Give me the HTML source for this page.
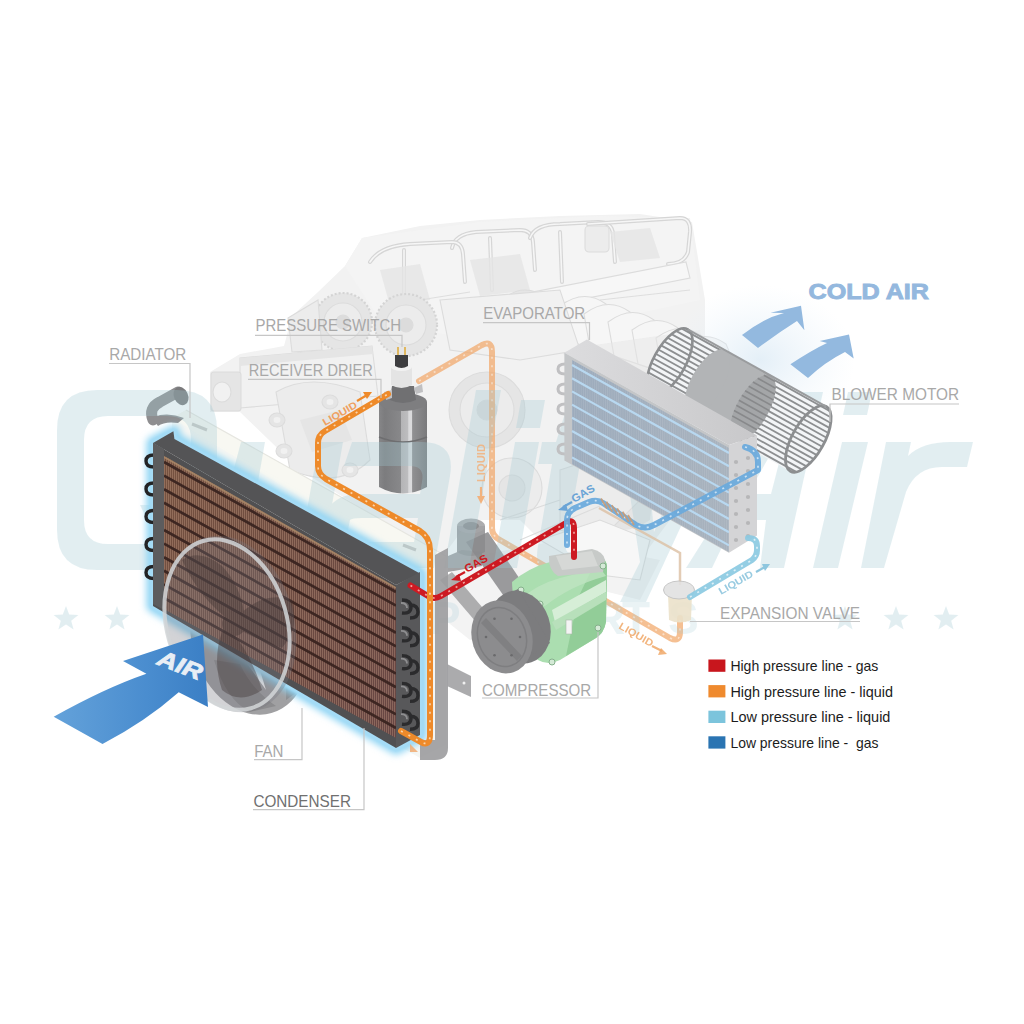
<!DOCTYPE html>
<html><head><meta charset="utf-8"><title>AC system diagram</title>
<style>html,body{margin:0;padding:0;background:#fff;}body{width:1024px;height:1024px;overflow:hidden;font-family:"Liberation Sans",sans-serif;}svg{display:block;}</style>
</head><body>
<svg width="1024" height="1024" viewBox="0 0 1024 1024"><defs>
<filter id="blur1" x="-20%" y="-20%" width="140%" height="140%"><feGaussianBlur stdDeviation="1.2"/></filter>
<filter id="blur2" x="-20%" y="-20%" width="140%" height="140%"><feGaussianBlur stdDeviation="2.5"/></filter>
<filter id="blur4" x="-30%" y="-30%" width="160%" height="160%"><feGaussianBlur stdDeviation="3.5"/></filter>
<filter id="blur8" x="-50%" y="-50%" width="200%" height="200%"><feGaussianBlur stdDeviation="10"/></filter>
<linearGradient id="airg" x1="0" y1="0" x2="1" y2="0"><stop offset="0" stop-color="#64a2da"/><stop offset="0.6" stop-color="#4a8dcf"/><stop offset="1" stop-color="#3b7fc5"/></linearGradient>
<linearGradient id="drierg" x1="0" y1="0" x2="1" y2="0">
 <stop offset="0" stop-color="#868688"/><stop offset="0.12" stop-color="#7c7c7e"/><stop offset="0.45" stop-color="#88888a"/><stop offset="0.46" stop-color="#b4b4b6"/><stop offset="0.6" stop-color="#bdbdbf"/><stop offset="0.62" stop-color="#dadadc"/><stop offset="0.68" stop-color="#dadadc"/><stop offset="0.7" stop-color="#909092"/><stop offset="1" stop-color="#7a7a7c"/></linearGradient>
<linearGradient id="coreg" x1="0" y1="0" x2="1" y2="1">
 <stop offset="0" stop-color="#765240"/><stop offset="0.5" stop-color="#6c4a40"/><stop offset="1" stop-color="#684644"/></linearGradient>
<linearGradient id="evtop" x1="0" y1="0" x2="1" y2="0"><stop offset="0" stop-color="#dcdcde"/><stop offset="1" stop-color="#c8c8ca"/></linearGradient>
<linearGradient id="evfront" x1="0" y1="0" x2="1" y2="0"><stop offset="0" stop-color="#9cabbc"/><stop offset="1" stop-color="#a8b2bd"/></linearGradient>
<pattern id="fins" width="2" height="10" patternUnits="userSpaceOnUse"><rect width="0.9" height="10" fill="#c49a84" opacity="0.42"/></pattern>
<pattern id="efins" width="2.2" height="10" patternUnits="userSpaceOnUse"><rect width="0.8" height="10" fill="#ffffff" opacity="0.1"/></pattern>
<radialGradient id="glowcold" cx="0.5" cy="0.5" r="0.5"><stop offset="0" stop-color="#d8e8f4" stop-opacity="0.7"/><stop offset="1" stop-color="#e8f2fa" stop-opacity="0"/></radialGradient>
</defs>
<g stroke="#dcdcdc" stroke-width="1.1" fill="#ececec">
<path stroke="none" fill="#f2f2f2" d="M210,372 L240,354 L284,346 L292,316 L318,292 L345,266 L362,238 L420,226 L480,220 L560,216 L640,214 L692,222 L705,300 L705,360 L690,440 L670,520 L640,560 L560,560 L520,520 L470,520 L440,560 L380,520 L300,470 L240,412 L210,412 Z"/>
<path stroke="none" fill="#f3f3f3" d="M455,560 L560,540 L660,560 L640,600 L600,590 L560,620 L470,640 L445,620 Z"/>
<path fill="#f4f4f4" stroke="none" d="M345,266 L362,238 L480,222 L600,216 L690,218 L700,300 L560,330 L470,340 L380,320 Z"/>
<g fill="none" stroke-linecap="round">
<path d="M452,248 Q455,234 476,232 L520,230 Q532,230 533,242 L535,270" stroke="#d6d6d6" stroke-width="4"/>
<path d="M452,248 Q455,234 476,232 L520,230 Q532,230 533,242 L535,270" stroke="#f6f6f6" stroke-width="1.6"/>
<path d="M530,238 Q535,224 560,224 L598,222 Q612,222 613,234 L615,262" stroke="#d6d6d6" stroke-width="4"/>
<path d="M530,238 Q535,224 560,224 L598,222 Q612,222 613,234 L615,262" stroke="#f6f6f6" stroke-width="1.6"/>
<path d="M588,224 L680,218 Q691,218 690,232 L688,252 Q684,264 668,264" stroke="#d6d6d6" stroke-width="4"/>
<path d="M588,224 L680,218 Q691,218 690,232 L688,252 Q684,264 668,264" stroke="#f6f6f6" stroke-width="1.6"/>
<path d="M370,262 Q380,246 410,244 L452,242 Q462,242 463,254 L465,282" stroke="#d6d6d6" stroke-width="4"/>
<path d="M370,262 Q380,246 410,244 L452,242 Q462,242 463,254 L465,282" stroke="#f6f6f6" stroke-width="1.6"/>
<path d="M404,250 L404,296 M490,238 L492,290 M560,232 L562,282" stroke="#d6d6d6" stroke-width="4"/>
<path d="M404,250 L404,296 M490,238 L492,290 M560,232 L562,282" stroke="#f6f6f6" stroke-width="1.6"/>
</g>
<path fill="#e5e5e5" stroke="none" d="M470,260 L520,254 L530,290 L480,296 Z M610,232 L650,228 L660,258 L620,262 Z M380,270 L420,264 L430,300 L390,306 Z" opacity="0.8"/>
<rect x="585" y="226" width="24" height="26" rx="4" fill="#ececec"/>
<path fill="#f7f7f7" d="M451,308 L686,262 L690,278 L455,324 Z"/>
<path fill="none" stroke="#dedede" stroke-width="1.2" d="M420,300 L470,292 M600,300 L690,290"/>
<circle cx="343" cy="322" r="29" fill="#e5e5e5" stroke="#d4d4d4" stroke-width="2.2" stroke-dasharray="2 2"/><circle cx="343" cy="322" r="19" fill="#ececec"/><circle cx="343" cy="322" r="7" fill="#dcdcdc"/>
<circle cx="406" cy="325" r="31" fill="#e5e5e5" stroke="#d4d4d4" stroke-width="2.2" stroke-dasharray="2 2"/><circle cx="406" cy="325" r="20" fill="#ececec"/><circle cx="406" cy="325" r="7" fill="#dcdcdc"/>
<path fill="#ececec" d="M288,318 L318,300 L322,350 L292,352 Z"/>
<path fill="#f1f1f1" d="M240,358 L372,346 L378,396 L240,408 Z"/>
<path fill="#e5e5e5" stroke="none" d="M240,358 L372,346 L373,354 L240,366 Z"/>
<rect x="211" y="372" width="30" height="39" rx="3" fill="#e5e5e5"/>
<ellipse cx="222" cy="392" rx="9" ry="10" fill="#f1f1f1"/>
<path fill="#ececec" d="M276,392 Q310,372 360,392 L370,460 Q340,490 290,470 Z"/>
<ellipse cx="277" cy="420" rx="8" ry="7" fill="#e5e5e5"/><ellipse cx="277" cy="420" rx="3.5" ry="3" fill="#f1f1f1" stroke="none"/>
<ellipse cx="284" cy="451" rx="8" ry="7" fill="#e5e5e5"/><ellipse cx="284" cy="451" rx="3.5" ry="3" fill="#f1f1f1" stroke="none"/>
<ellipse cx="330" cy="402" rx="8" ry="7" fill="#e5e5e5"/><ellipse cx="330" cy="402" rx="3.5" ry="3" fill="#f1f1f1" stroke="none"/>
<ellipse cx="350" cy="470" rx="8" ry="7" fill="#e5e5e5"/><ellipse cx="350" cy="470" rx="3.5" ry="3" fill="#f1f1f1" stroke="none"/>
<path fill="#e5e5e5" stroke="none" d="M300,420 L340,410 L352,440 L312,452 Z"/>
<path fill="#f6f6f6" d="M560,306 q24,-18 46,-2 q12,24 -4,48 l-36,-12 Z"/>
<path fill="#f6f6f6" d="M584,314 q24,-18 46,-2 q12,24 -4,48 l-36,-12 Z"/>
<path fill="#f6f6f6" d="M608,322 q24,-18 46,-2 q12,24 -4,48 l-36,-12 Z"/>
<path fill="#f6f6f6" d="M632,330 q24,-18 46,-2 q12,24 -4,48 l-36,-12 Z"/>
<path fill="#f6f6f6" d="M656,338 q24,-18 46,-2 q12,24 -4,48 l-36,-12 Z"/>
<path fill="#f6f6f6" d="M680,346 q24,-18 46,-2 q12,24 -4,48 l-36,-12 Z"/>
<path fill="#e5e5e5" stroke="none" d="M560,350 L700,330 L705,380 L600,400 Z" opacity="0.5"/>
<circle cx="487" cy="410" r="38" fill="#e5e5e5"/><circle cx="487" cy="410" r="27" fill="#ececec"/><circle cx="487" cy="410" r="10" fill="#dcdcdc"/>
<circle cx="512" cy="488" r="30" fill="#ececec"/><circle cx="512" cy="488" r="13" fill="#e5e5e5"/>
<circle cx="525" cy="318" r="28" fill="#e5e5e5"/><circle cx="525" cy="318" r="12" fill="#ececec"/>
<path fill="#f1f1f1" d="M440,300 L560,290 L580,350 L520,360 L450,350 Z"/>
<path fill="#e5e5e5" stroke="none" d="M600,420 Q640,410 660,440 L650,520 Q620,540 600,520 Z"/>
<path fill="#ececec" d="M560,470 L620,450 L640,500 L600,540 L560,530 Z"/>
<path fill="#f7f7f7" d="M540,540 L600,520 L650,540 L640,580 L600,575 Z"/>
<path fill="none" d="M500,520 L560,500 M520,540 L600,506"/>
</g>
<ellipse cx="760" cy="360" rx="95" ry="75" fill="url(#glowcold)"/>
<path d="M172,418 L186,410 L446,556 L446,745 L420,758 L174,616 Z" fill="#f5f6f3"/>
<path d="M172,418 L186,410 L446,556 L420,571 Z" fill="#f8f8f2"/>
<path d="M186,410 L446,556" stroke="#e6e6e0" stroke-width="1.2" fill="none"/>
<path d="M192,424 L207,430 M403,545 L416,550" stroke="#c8c8c4" stroke-width="3"/>
<path d="M153,420 Q148,408 160,402 L178,392" fill="none" stroke="#8e8e90" stroke-width="11" stroke-linecap="round"/>
<ellipse cx="181" cy="396" rx="7" ry="9.5" transform="rotate(-25 181 396)" fill="#7a7a7c"/>
<path d="M152,418 L160,415 Q172,413 184,418 L178,423 Q165,421 158,426 Z" fill="#8e8e90"/>
<g opacity="0.72"><path d="M419,381 L482,345 Q492,340 492,352 L492,528 Q492,536 500,540 L670,638 Q680,643 680,632 L680,618" fill="none" stroke="#f2a86a" stroke-width="6" stroke-linecap="round" stroke-linejoin="round"/><path d="M419,381 L482,345 Q492,340 492,352 L492,528 Q492,536 500,540 L670,638 Q680,643 680,632 L680,618" fill="none" stroke="#fbdcc0" stroke-width="1.7" stroke-dasharray="2 6.5" opacity="0.85"/></g>
<path d="M457,526 L457,552 Q470,560 485,552 L485,526 Z" fill="#8e8e90" opacity="0.85"/>
<path d="M448,556 L462,550 L482,552 L482,566 L448,572 Z" fill="#939395" opacity="0.85"/>
<ellipse cx="471" cy="526" rx="14" ry="7.5" fill="#a4a4a6" opacity="0.9"/>
<ellipse cx="471" cy="526" rx="8" ry="4" fill="#8a8a8c" opacity="0.9"/>
<path d="M466,542 L508,602 L530,594 L488,532 Z" fill="#8a8a8c" opacity="0.85"/>
<path d="M440,580 L452,572 L488,614 L476,622 Z" fill="#8e8e90" opacity="0.7"/>
<g>
<path d="M379,402 L379,487 Q403,500 427,487 L427,402 Z" fill="url(#drierg)"/>
<ellipse cx="403" cy="402" rx="24" ry="9" fill="#7e7e80"/>
<path d="M379,437 Q403,447 427,437" fill="none" stroke="#6e6e70" stroke-width="1.5"/>
<path d="M392,386 L414,386 L416,400 Q403,406 390,400 Z" fill="#707072"/>
<path d="M384,392 L392,390 L392,398 L386,400 Z M414,388 L422,384 L423,392 L416,394 Z" fill="#c0c0c2"/>
<path d="M391,367 L412,367 L412,385 Q401.5,391 391,385 Z" fill="#e4e4e4"/>
<ellipse cx="401.5" cy="367" rx="10.5" ry="4" fill="#f2f2f2"/>
<path d="M395,355 L408,355 L408,366 Q401.5,370 395,366 Z" fill="#3e3e40"/>
<path d="M398,347 v8 M405,347 v8" stroke="#e0b860" stroke-width="2"/>
</g>
<g fill="#a2cad4" opacity="0.3">
<path fill-rule="evenodd" d="M97,390 H177 Q217,390 217,430 V530 Q217,570 177,570 H97 Q57,570 57,530 V430 Q57,390 97,390 Z M108,416 Q84,416 84,440 V520 Q84,544 108,544 H167 Q191,544 191,520 V440 Q191,416 167,416 Z"/>
<path d="M140,505 L168,505 L200,570 L172,570 Z"/>
<path d="M241,442 h24 l-14,80 q-3,22 20,22 h30 l18,-102 h24 l-22,126 h-70 q-40,0 -34,-36 Z"/>
<path fill-rule="evenodd" d="M352,442 h70 q34,0 28,34 l-16,92 h-84 q-36,0 -30,-32 l2,-12 q6,-30 38,-30 h60 l2,-12 q3,-16 -12,-16 h-66 Z M350,520 l-2,10 q-2,12 12,12 h54 l4,-24 h-56 q-10,0 -12,2 Z"/>
<path d="M476,390 h25 l-32,178 h-25 Z"/>
<path d="M515,442 h24 l-22,126 h-24 Z M521,400 h24 l-5,28 h-24 Z"/>
<path d="M566,410 h24 l-6,32 h20 l-4,22 h-20 l-14,80 q-2,10 8,10 h10 l-4,24 h-18 q-30,0 -24,-32 l14,-82 h-14 l4,-22 h14 Z"/>
<path d="M622,442 h24 l8,90 l40,-90 h26 l-74,160 h-26 l20,-40 Z"/>
<path fill-rule="evenodd" d="M686,568 L797,392 L823,392 L784,568 L760,568 L766,520 L735,520 L712,568 Z M748,494 L771,494 L790,420 Z"/>
<path d="M842,442 L868,442 L838,568 L813,568 Z M848,392 L872,392 L867,415 L843,415 Z"/>
<path d="M886,442 L911,442 L908,456 Q922,442 950,442 L973,442 L967,467 L942,467 Q916,467 906,492 L884,568 L861,568 Z"/>
<polygon points="66.0,606.0 69.2,614.6 78.4,615.0 71.2,620.7 73.6,629.5 66.0,624.5 58.4,629.5 60.8,620.7 53.6,615.0 62.8,614.6"/>
<polygon points="117.0,606.0 120.2,614.6 129.4,615.0 122.2,620.7 124.6,629.5 117.0,624.5 109.4,629.5 111.8,620.7 104.6,615.0 113.8,614.6"/>
<polygon points="845.0,606.0 848.2,614.6 857.4,615.0 850.2,620.7 852.6,629.5 845.0,624.5 837.4,629.5 839.8,620.7 832.6,615.0 841.8,614.6"/>
<polygon points="896.0,606.0 899.2,614.6 908.4,615.0 901.2,620.7 903.6,629.5 896.0,624.5 888.4,629.5 890.8,620.7 883.6,615.0 892.8,614.6"/>
<polygon points="946.0,606.0 949.2,614.6 958.4,615.0 951.2,620.7 953.6,629.5 946.0,624.5 938.4,629.5 940.8,620.7 933.6,615.0 942.8,614.6"/>
</g>
<g fill="#a2cad4" opacity="0.22" font-family="Liberation Sans" font-weight="bold" font-size="46">
<text x="430" y="634">P</text>
<text x="515" y="634">A</text>
<text x="592" y="634">R</text>
<text x="622" y="634">T</text>
<text x="668" y="634">S</text>
</g>
<ellipse cx="250" cy="638" rx="58" ry="78" transform="rotate(-16 250 638)" fill="#a0a0a2"/>
<path d="M214,660 Q226,700 250,712 L276,706 Q252,690 240,664 Z" fill="#8c8c8e"/>
<path d="M282,640 Q300,660 300,690 L286,700 Q288,670 270,650 Z" fill="#8c8c8e"/>
<path d="M246,662 L266,690 L258,664 Z" fill="#ffffff"/>
<path d="M174,432 L174.4,439 L420,573.5 L420,735 L396,748 L153,606 L153,443 Z" fill="none" stroke="#8ed4f4" stroke-width="13" stroke-linejoin="round" filter="url(#blur4)"/>
<path d="M174,432 L174.4,439 L420,573.5 L420,735 L396,748 L153,606 L153,443 Z" fill="none" stroke="#a6dcf6" stroke-width="6" stroke-linejoin="round" filter="url(#blur1)"/>
<g fill="none" stroke="#232325" stroke-width="3.4">
<path d="M154,455.0 Q146,455.0 146,461.0 Q146,467.0 154,467.0"/>
<path d="M154,483.0 Q146,483.0 146,489.0 Q146,495.0 154,495.0"/>
<path d="M154,510.5 Q146,510.5 146,516.5 Q146,522.5 154,522.5"/>
<path d="M154,538.5 Q146,538.5 146,544.5 Q146,550.5 154,550.5"/>
<path d="M154,566.5 Q146,566.5 146,572.5 Q146,578.5 154,578.5"/>
</g>
<path d="M153,443 L173.4,431.3 L174.4,439 L420,573.5 L396,585 Z" fill="#545456"/>
<path d="M153,443 L396,585 L396,748 L153,606 Z" fill="#505052"/>
<path d="M164,456 L396,587 L396,738 L164,609 Z" fill="url(#coreg)"/>
<path d="M164,456 L396,587 L396,738 L164,609 Z" fill="url(#fins)"/>
<line x1="164" y1="457" x2="396" y2="588" stroke="#a98868" stroke-width="2" opacity="0.85"/>
<g stroke="#3a2420" stroke-width="2.7" opacity="0.95">
<line x1="164" y1="462.0" x2="396" y2="592.0"/>
<line x1="164" y1="475.6" x2="396" y2="605.6"/>
<line x1="164" y1="489.2" x2="396" y2="619.2"/>
<line x1="164" y1="502.8" x2="396" y2="632.8"/>
<line x1="164" y1="516.4" x2="396" y2="646.4"/>
<line x1="164" y1="530.0" x2="396" y2="660.0"/>
<line x1="164" y1="543.6" x2="396" y2="673.6"/>
<line x1="164" y1="557.2" x2="396" y2="687.2"/>
<line x1="164" y1="570.8" x2="396" y2="700.8"/>
<line x1="164" y1="584.4" x2="396" y2="714.4"/>
<line x1="164" y1="598.0" x2="396" y2="728.0"/>
</g>
<path d="M153,443 L164,449 L164,610 L153,604 Z" fill="#5c5c5e"/>
<ellipse cx="230" cy="624" rx="64" ry="90" transform="rotate(-16 230 624)" fill="#767680" opacity="0.32"/>
<g fill="#3e3232" opacity="0.38">
<path d="M232,622 Q200,600 182,560 Q200,548 222,566 Q240,585 244,612 Z"/>
<path d="M236,618 Q262,590 292,600 Q300,628 282,648 Q258,640 240,630 Z"/>
<path d="M228,628 Q250,650 262,690 Q240,705 222,690 Q212,660 222,632 Z"/>
<circle cx="234" cy="624" r="12"/>
</g>
<path d="M396,585 L420,572 L420,735 L396,748 Z" fill="#58585a"/>
<g fill="none" stroke="#2b2b2d" stroke-width="3.4">
<path d="M402,600.0 Q411,600.0 411,607.0 Q411,614.0 402,613.0"/>
<path d="M410,605.0 Q418,605.0 418,612.0 Q418,618.0 410,618.0"/>
<path d="M402,627.8 Q411,627.8 411,634.8 Q411,641.8 402,640.8"/>
<path d="M410,632.8 Q418,632.8 418,639.8 Q418,645.8 410,645.8"/>
<path d="M402,655.6 Q411,655.6 411,662.6 Q411,669.6 402,668.6"/>
<path d="M410,660.6 Q418,660.6 418,667.6 Q418,673.6 410,673.6"/>
<path d="M402,683.4 Q411,683.4 411,690.4 Q411,697.4 402,696.4"/>
<path d="M410,688.4 Q418,688.4 418,695.4 Q418,701.4 410,701.4"/>
<path d="M402,711.2 Q411,711.2 411,718.2 Q411,725.2 402,724.2"/>
<path d="M410,716.2 Q418,716.2 418,723.2 Q418,729.2 410,729.2"/>
</g>
<g fill="none" stroke="#8e8e90" stroke-width="1.8">
<path d="M401,603.0 Q407,603.0 407,608.0"/>
<path d="M401,630.8 Q407,630.8 407,635.8"/>
<path d="M401,658.6 Q407,658.6 407,663.6"/>
<path d="M401,686.4 Q407,686.4 407,691.4"/>
<path d="M401,714.2 Q407,714.2 407,719.2"/>
</g>
<ellipse cx="227" cy="624.6" rx="60" ry="87" transform="rotate(-16 227 624.6)" fill="none" stroke="#d2d6d8" stroke-width="4" opacity="0.85"/>
<path d="M53.7,716.7 Q105,688 146.4,673.7 L123,661 L203,634.6 L208,706.9 L178.7,692.3 Q145,722 102.5,744 Z" fill="url(#airg)"/>
<text transform="translate(156,664) rotate(21)" font-family="Liberation Sans" font-weight="bold" font-style="italic" font-size="22" fill="#e8eef5" stroke="#e8eef5" stroke-width="0.8" textLength="46" lengthAdjust="spacingAndGlyphs">AIR</text>
<path d="M435,555 L448,548 L448,748 Q448,760 435,760 L420,760 L420,740 L435,740 Z" fill="#9c9c9e" opacity="0.9"/>
<path d="M447,664 L471,676 L471,697 L447,686 Z" fill="#a2a2a4" opacity="0.9"/><circle cx="464" cy="683" r="1.5" fill="#f0f0f0"/>
<g>
<path d="M512,582 Q528,568 550,562 L598,556 Q607,558 607,568 L606,622 Q604,633 596,638 L560,660 Q548,666 538,660 L515,640 Z" fill="#abdeb0"/>
<path d="M598,556 Q607,558 607,568 L606,622 Q604,633 596,638 L566,656 L578,598 Z" fill="#92cd98"/>
<path d="M520,600 Q535,585 560,578 L600,568 L606,576 Q570,586 545,606 Z" fill="#bfe4c2" opacity="0.8"/>
<path d="M552,610 L606,580 L606,592 L555,622 Z" fill="#d6eed7"/>
<path d="M552,622 L606,592 L606,600 L556,630 Z" fill="#b8e0bb"/>
<path d="M549,556 L592,549 Q604,552 605,560 L603,572 L558,576 Q548,570 549,556 Z" fill="#c7cac8"/>
<path d="M556,556 L592,551 L598,566 L562,570 Z" fill="#d6d8d6"/>
<circle cx="540" cy="604" r="3" fill="#d4ead6" stroke="#86b08c" stroke-width="1"/>
<circle cx="603" cy="566" r="3" fill="#d4ead6" stroke="#86b08c" stroke-width="1"/>
<circle cx="598" cy="628" r="3" fill="#d4ead6" stroke="#86b08c" stroke-width="1"/>
<circle cx="552" cy="662" r="3" fill="#d4ead6" stroke="#86b08c" stroke-width="1"/>
<circle cx="521" cy="590" r="3" fill="#d4ead6" stroke="#86b08c" stroke-width="1"/>
<rect x="566" y="620" width="6" height="14" fill="#f4f4f4" stroke="#a8b8a8" stroke-width="0.6"/>
<ellipse cx="520" cy="627" rx="30" ry="37" transform="rotate(-18 520 627)" fill="#7c7c7e"/>
<path d="M490,604 L518,589 L550,643 L522,662 Z" fill="#7c7c7e"/>
<ellipse cx="502" cy="637" rx="30" ry="37" transform="rotate(-18 502 637)" fill="#8c8c8e"/>
<ellipse cx="502" cy="637" rx="24" ry="30" transform="rotate(-18 502 637)" fill="none" stroke="#7e7e80" stroke-width="1.5"/>
<path d="M486,618 L522,656 L517,661 L481,623 Z" fill="#808082"/>
<circle cx="520.0" cy="637.0" r="1.3" fill="#6a6a6c"/>
<circle cx="511.5" cy="655.2" r="1.3" fill="#6a6a6c"/>
<circle cx="494.5" cy="655.2" r="1.3" fill="#6a6a6c"/>
<circle cx="486.0" cy="637.0" r="1.3" fill="#6a6a6c"/>
<circle cx="494.5" cy="618.8" r="1.3" fill="#6a6a6c"/>
<circle cx="511.5" cy="618.8" r="1.3" fill="#6a6a6c"/>
</g>
<g opacity="1.0"><path d="M410.5,585.5 L428,596 Q434,600 441,596 L566,523 Q574,518 574,528 L574,557" fill="none" stroke="#cd1a22" stroke-width="6" stroke-linecap="round" stroke-linejoin="round"/><path d="M410.5,585.5 L428,596 Q434,600 441,596 L566,523 Q574,518 574,528 L574,557" fill="none" stroke="#f7b8b0" stroke-width="1.7" stroke-dasharray="2 6.5" opacity="0.85"/></g>
<g opacity="1.0"><path d="M401,731 L421,742 Q430,747 430,735 L430,550 Q430,537 420,531 L326,479 Q318,474 318,466 L318,443 Q318,435 325,431 L388,394" fill="none" stroke="#ee8a2a" stroke-width="6" stroke-linecap="round" stroke-linejoin="round"/><path d="M401,731 L421,742 Q430,747 430,735 L430,550 Q430,537 420,531 L326,479 Q318,474 318,466 L318,443 Q318,435 325,431 L388,394" fill="none" stroke="#fde0c0" stroke-width="1.7" stroke-dasharray="2 6.5" opacity="0.85"/></g>
<path d="M410,744 L418,752 L410,752 Z" fill="#f2a86a" opacity="0.8"/>
<defs><clipPath id="blowclip"><path d="M687.7,329.3 L826.3,406.6 L790.3,471.2 L651.7,393.9 Z"/><ellipse cx="669.7" cy="361.6" rx="16" ry="37" transform="rotate(29.1 669.7 361.6)"/><ellipse cx="808.3" cy="438.9" rx="16" ry="37" transform="rotate(29.1 808.3 438.9)"/></clipPath></defs>
<g clip-path="url(#blowclip)">
<rect x="600" y="300" width="260" height="200" fill="#f3f5f7"/>
<g stroke="#8d8f91" stroke-width="1.8">
<line x1="681.9" y1="328.6" x2="725.5" y2="352.9"/>
<line x1="765.1" y1="374.9" x2="830.0" y2="411.2"/>
<line x1="676.0" y1="330.9" x2="724.1" y2="357.8"/>
<line x1="759.1" y1="377.3" x2="831.1" y2="417.5"/>
<line x1="671.5" y1="334.1" x2="722.3" y2="362.5"/>
<line x1="754.6" y1="380.5" x2="830.8" y2="423.0"/>
<line x1="667.6" y1="337.7" x2="720.3" y2="367.1"/>
<line x1="750.8" y1="384.0" x2="829.8" y2="428.1"/>
<line x1="664.2" y1="341.4" x2="718.2" y2="371.6"/>
<line x1="747.3" y1="387.8" x2="828.4" y2="433.0"/>
<line x1="661.1" y1="345.4" x2="716.0" y2="376.0"/>
<line x1="744.2" y1="391.8" x2="826.6" y2="437.7"/>
<line x1="658.3" y1="349.5" x2="713.7" y2="380.4"/>
<line x1="741.4" y1="395.9" x2="824.6" y2="442.3"/>
<line x1="655.7" y1="353.8" x2="711.3" y2="384.8"/>
<line x1="738.9" y1="400.2" x2="822.3" y2="446.7"/>
<line x1="653.4" y1="358.2" x2="708.9" y2="389.1"/>
<line x1="736.6" y1="404.6" x2="819.7" y2="451.0"/>
<line x1="651.4" y1="362.8" x2="706.3" y2="393.4"/>
<line x1="734.6" y1="409.2" x2="816.9" y2="455.1"/>
<line x1="649.6" y1="367.5" x2="703.7" y2="397.6"/>
<line x1="732.8" y1="413.9" x2="813.8" y2="459.1"/>
<line x1="648.2" y1="372.4" x2="701.0" y2="401.8"/>
<line x1="731.4" y1="418.8" x2="810.4" y2="462.8"/>
<line x1="647.2" y1="377.5" x2="698.1" y2="405.9"/>
<line x1="730.4" y1="423.9" x2="806.5" y2="466.4"/>
<line x1="646.9" y1="383.0" x2="695.1" y2="409.9"/>
<line x1="730.1" y1="429.4" x2="802.0" y2="469.6"/>
<line x1="648.0" y1="389.3" x2="691.6" y2="413.7"/>
<line x1="731.2" y1="435.7" x2="796.1" y2="471.9"/>
</g>
<path d="M725.1,350.2 L770.9,375.7 L734.8,440.3 L689.1,414.8 Z" fill="#b2b4b6"/>
<ellipse cx="707.1" cy="382.5" rx="16" ry="37" transform="rotate(29.1 707.1 382.5)" fill="#b2b4b6"/>
<ellipse cx="752.9" cy="408.0" rx="16" ry="37" transform="rotate(29.1 752.9 408.0)" fill="#a4a6a8"/>
<g stroke="#88898b" stroke-width="1.6">
<line x1="763.9" y1="375.2" x2="774.9" y2="381.4"/>
<line x1="757.7" y1="378.2" x2="775.6" y2="388.2"/>
<line x1="752.9" y1="382.0" x2="774.9" y2="394.3"/>
<line x1="748.7" y1="386.2" x2="773.6" y2="400.1"/>
<line x1="745.1" y1="390.7" x2="771.7" y2="405.5"/>
<line x1="741.8" y1="395.3" x2="769.4" y2="410.7"/>
<line x1="738.9" y1="400.2" x2="766.8" y2="415.8"/>
<line x1="736.3" y1="405.2" x2="763.9" y2="420.6"/>
<line x1="734.0" y1="410.5" x2="760.6" y2="425.3"/>
<line x1="732.2" y1="415.9" x2="757.0" y2="429.7"/>
<line x1="730.8" y1="421.6" x2="752.9" y2="433.9"/>
<line x1="730.1" y1="427.7" x2="748.0" y2="437.7"/>
<line x1="730.8" y1="434.6" x2="741.8" y2="440.7"/>
</g>
</g>
<ellipse cx="669.7" cy="361.6" rx="16" ry="37" transform="rotate(29.1 669.7 361.6)" fill="none" stroke="#8c8e90" stroke-width="2.6"/>
<ellipse cx="808.3" cy="438.9" rx="16" ry="37" transform="rotate(29.1 808.3 438.9)" fill="none" stroke="#8c8e90" stroke-width="2.8"/>
<line x1="687.7" y1="329.3" x2="826.3" y2="406.6" stroke="#9a9c9e" stroke-width="2"/>
<g>
<g fill="none" stroke="#c0c0c2" stroke-width="3">
<path d="M565,364 Q558,364 558,369 Q558,374 565,374"/>
<path d="M565,384 Q558,384 558,389 Q558,394 565,394"/>
<path d="M565,404 Q558,404 558,409 Q558,414 565,414"/>
<path d="M565,424 Q558,424 558,429 Q558,434 565,434"/>
<path d="M565,444 Q558,444 558,449 Q558,454 565,454"/>
</g>
<path d="M564.4,352.8 L586.9,339.4 L757,435.6 L729,445 Z" fill="url(#evtop)"/>
<path d="M564.4,352.8 L729,445 L729,552.8 L564.4,460.6 Z" fill="#c4c6c8"/>
<path d="M572,360 L729,448 L729,552 L572,464 Z" fill="url(#evfront)"/>
<path d="M572,360 L729,448 L729,552 L572,464 Z" fill="url(#efins)"/>
<g stroke="#b8d8f0" stroke-width="2.2">
<line x1="572" y1="365.0" x2="729" y2="453.0"/>
<line x1="572" y1="378.2" x2="729" y2="466.2"/>
<line x1="572" y1="391.4" x2="729" y2="479.4"/>
<line x1="572" y1="404.6" x2="729" y2="492.6"/>
<line x1="572" y1="417.8" x2="729" y2="505.8"/>
<line x1="572" y1="431.0" x2="729" y2="519.0"/>
<line x1="572" y1="444.2" x2="729" y2="532.2"/>
<line x1="572" y1="457.4" x2="729" y2="545.4"/>
</g>
<path d="M729,445 L757,435.6 L757,535.6 L729,552.8 Z" fill="#d4d4d6"/>
<g fill="#b6b6b8">
<circle cx="736" cy="462" r="2.1"/>
<circle cx="748" cy="458" r="2.1"/>
<circle cx="736" cy="475" r="2.1"/>
<circle cx="748" cy="471" r="2.1"/>
<circle cx="736" cy="488" r="2.1"/>
<circle cx="748" cy="484" r="2.1"/>
<circle cx="736" cy="501" r="2.1"/>
<circle cx="748" cy="497" r="2.1"/>
<circle cx="736" cy="514" r="2.1"/>
<circle cx="748" cy="510" r="2.1"/>
<circle cx="736" cy="527" r="2.1"/>
<circle cx="748" cy="523" r="2.1"/>
<circle cx="736" cy="540" r="2.1"/>
<circle cx="748" cy="536" r="2.1"/>
</g>
</g>
<path d="M599,508 L680,553 L680,585" fill="none" stroke="#dcbfa3" stroke-width="2.5" opacity="0.8"/>
<g opacity="0.92"><path d="M745,447 Q758,450 758,462 L758,470 L654,525 Q645,530 636,525 L603,503 Q597,499 589,502 L575,508 Q567,512 567,520 L567,545" fill="none" stroke="#6aaadd" stroke-width="6" stroke-linecap="round" stroke-linejoin="round"/><path d="M745,447 Q758,450 758,462 L758,470 L654,525 Q645,530 636,525 L603,503 Q597,499 589,502 L575,508 Q567,512 567,520 L567,545" fill="none" stroke="#dcedfa" stroke-width="1.7" stroke-dasharray="2 6.5" opacity="0.85"/></g>
<g stroke="#c99c76" stroke-width="1.8" fill="none" opacity="0.9">
<path d="M601.0,498.5 L607.0,508.5"/>
<path d="M606.4,501.8 L612.4,511.8"/>
<path d="M611.8,505.1 L617.8,515.1"/>
<path d="M617.2,508.4 L623.2,518.4"/>
<path d="M622.6,511.7 L628.6,521.7"/>
<path d="M628.0,515.0 L634.0,525.0"/>
</g>
<g opacity="0.9">
<path d="M668,594 L692,594 L691,620 Q680,625 669,620 Z" fill="#ece2ca"/>
<ellipse cx="679" cy="590" rx="15.5" ry="9" fill="#e2e2e2" stroke="#c0c0c0" stroke-width="1"/>
</g>
<g opacity="0.92"><path d="M690,597 L752,560 Q757,556 757,550 L757,546 Q757,538 748,538" fill="none" stroke="#8ccae2" stroke-width="6" stroke-linecap="round" stroke-linejoin="round"/><path d="M690,597 L752,560 Q757,556 757,550 L757,546 Q757,538 748,538" fill="none" stroke="#e8f6fb" stroke-width="1.7" stroke-dasharray="2 6.5" opacity="0.85"/></g>
<text transform="translate(325,426) rotate(-30)" font-family="Liberation Sans" font-weight="bold" font-size="10" fill="#efa060" opacity="1" textLength="38" lengthAdjust="spacingAndGlyphs">LIQUID</text>
<path d="M357,401 L367,395" stroke="#ef8a2a" stroke-width="2.2"/><path d="M372,392 L363,392 L367,399 Z" fill="#ef8a2a"/>
<text transform="translate(484.5,482) rotate(-90)" font-family="Liberation Sans" font-weight="bold" font-size="10.5" fill="#f2b27e" opacity="0.85" textLength="38" lengthAdjust="spacingAndGlyphs">LIQUID</text>
<path d="M481,487 L481,498" stroke="#f2b27e" stroke-width="2.2"/><path d="M477,496 L485,496 L481,504 Z" fill="#f2b27e"/>
<text transform="translate(467,573) rotate(-30)" font-family="Liberation Sans" font-weight="bold" font-size="11" fill="#cd1a22" opacity="1" textLength="25" lengthAdjust="spacingAndGlyphs">GAS</text>
<path d="M465,572 L456,577" stroke="#cd1a22" stroke-width="2.2"/><path d="M451,580 L459,574 L461,581 Z" fill="#cd1a22"/>
<text transform="translate(574,503) rotate(-30)" font-family="Liberation Sans" font-weight="bold" font-size="11" fill="#6aa4d6" opacity="1" textLength="25" lengthAdjust="spacingAndGlyphs">GAS</text>
<path d="M572,502 L563,507" stroke="#6aa4d6" stroke-width="2.2"/><path d="M558,510 L566,504 L568,511 Z" fill="#6aa4d6"/>
<text transform="translate(618,628) rotate(30)" font-family="Liberation Sans" font-weight="bold" font-size="10" fill="#f0a868" opacity="0.85" textLength="38" lengthAdjust="spacingAndGlyphs">LIQUID</text>
<path d="M652,646 L662,651" stroke="#f0a868" stroke-width="2.2" opacity="0.85"/><path d="M667,654 L658,655 L661,648 Z" fill="#f0a868" opacity="0.85"/>
<text transform="translate(721,595) rotate(-30)" font-family="Liberation Sans" font-weight="bold" font-size="10" fill="#8ec6de" opacity="0.9" textLength="38" lengthAdjust="spacingAndGlyphs">LIQUID</text>
<path d="M756,572 L765,567" stroke="#8ec6de" stroke-width="2.2"/><path d="M770,564 L762,564 L765,571 Z" fill="#8ec6de"/>
<path d="M742,335 Q764,318 784,313 L770.5,312.7 L801,305.7 L804.4,330.3 L797,321 Q778,333 758,348 Z" fill="#93b9df"/>
<path d="M790.4,364.3 Q812,350 827,343 L819.7,340.9 L849,334.5 L853.7,358.4 L845,352 Q825,362 808,378 Z" fill="#93b9df"/>
<text x="808.5" y="298.5" font-family="Liberation Sans" font-weight="bold" font-size="22" fill="#94b8de" stroke="#94b8de" stroke-width="0.9" textLength="120.5" lengthAdjust="spacingAndGlyphs">COLD AIR</text>
<text x="255.6" y="331.4" font-family="Liberation Sans" font-size="16.5" fill="#a8a8a8" textLength="145.4" lengthAdjust="spacingAndGlyphs">PRESSURE SWITCH</text>
<text x="248.8" y="375.5" font-family="Liberation Sans" font-size="16.5" fill="#a8a8a8" textLength="124" lengthAdjust="spacingAndGlyphs">RECEIVER DRIER</text>
<text x="109.2" y="360" font-family="Liberation Sans" font-size="16.5" fill="#a8a8a8" textLength="77.1" lengthAdjust="spacingAndGlyphs">RADIATOR</text>
<text x="483.3" y="319.3" font-family="Liberation Sans" font-size="16.5" fill="#a8a8a8" textLength="101.9" lengthAdjust="spacingAndGlyphs">EVAPORATOR</text>
<text x="831.4" y="399.9" font-family="Liberation Sans" font-size="16.5" fill="#a8a8a8" textLength="127.7" lengthAdjust="spacingAndGlyphs">BLOWER MOTOR</text>
<text x="720.1" y="618.5" font-family="Liberation Sans" font-size="16.5" fill="#a8a8a8" textLength="140" lengthAdjust="spacingAndGlyphs">EXPANSION VALVE</text>
<text x="482" y="696" font-family="Liberation Sans" font-size="17" fill="#a8a8a8" textLength="109.3" lengthAdjust="spacingAndGlyphs">COMPRESSOR</text>
<text x="254.2" y="756.9" font-family="Liberation Sans" font-size="16.5" fill="#a8a8a8" textLength="29.3" lengthAdjust="spacingAndGlyphs">FAN</text>
<text x="253.4" y="807.3" font-family="Liberation Sans" font-size="17" fill="#707070" textLength="97.6" lengthAdjust="spacingAndGlyphs">CONDENSER</text>
<g stroke="#c6c6c6" stroke-width="1.2" fill="none">
<path d="M109,363.5 H190 V418"/>
<path d="M255,335.3 H402 V347"/>
<path d="M248,379.3 H381 V398"/>
<path d="M483,322.6 H589.5 V340"/>
<path d="M959,404 H830 V422"/>
<path d="M860,621.5 H690"/>
<path d="M482,698 H598 V632"/>
<path d="M254,759.6 H302 V708"/>
<path d="M253,809.6 H364 V728"/>
</g>
<rect x="708.4" y="659.5" width="17" height="12.3" fill="#c8161d"/>
<text x="730.4" y="671.0" font-family="Liberation Sans" font-size="15" fill="#1c1c1c" xml:space="preserve" textLength="148" lengthAdjust="spacingAndGlyphs">High pressure line - gas</text>
<rect x="708.4" y="685.1" width="17" height="12.3" fill="#ef8a2e"/>
<text x="730.4" y="696.6" font-family="Liberation Sans" font-size="15" fill="#1c1c1c" xml:space="preserve" textLength="162.6" lengthAdjust="spacingAndGlyphs">High pressure line - liquid</text>
<rect x="708.4" y="710.7" width="17" height="12.3" fill="#7cc4dc"/>
<text x="730.4" y="722.2" font-family="Liberation Sans" font-size="15" fill="#1c1c1c" xml:space="preserve" textLength="160" lengthAdjust="spacingAndGlyphs">Low pressure line - liquid</text>
<rect x="708.4" y="736.3" width="17" height="12.3" fill="#2a74b2"/>
<text x="730.4" y="747.8" font-family="Liberation Sans" font-size="15" fill="#1c1c1c" xml:space="preserve" textLength="148" lengthAdjust="spacingAndGlyphs">Low pressure line -  gas</text></svg>
</body></html>
